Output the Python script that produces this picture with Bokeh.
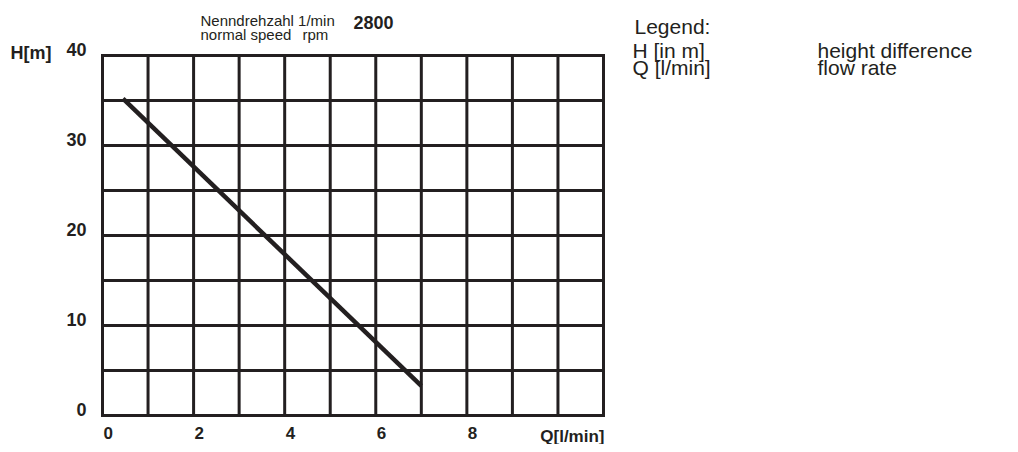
from bokeh.plotting import figure
from bokeh.models import Range1d
from bokeh.core.properties import value
from bokeh.embed import file_html
from bokeh.resources import INLINE

# ---- data ----
q_values = [0.45, 7.0]          # flow rate Q [l/min]
h_values = [35.2, 3.3]          # height H [m]
x_ticks = [0, 2, 4, 6, 8]
x_tick_labels = ["0", "2", "4", "6", "8"]
y_ticks = [0, 10, 20, 30, 40]
y_tick_labels = ["0", "10", "20", "30", "40"]
x_grid = list(range(0, 12))          # 0 .. 11
y_grid = list(range(0, 41, 5))       # 0 .. 40

INK = "#231f20"
FONT = "Liberation Sans"
W, H = 1010, 444

# box placement on the canvas (pixels)
BOX_L, BOX_R, BOX_T, BOX_B = 102, 603, 55, 415
XMIN, XMAX = x_grid[0], x_grid[-1]
YMIN, YMAX = y_grid[0], y_grid[-1]
SX = (BOX_R - BOX_L) / (XMAX - XMIN)
SY = (BOX_B - BOX_T) / (YMAX - YMIN)

p = figure(width=W, height=H, output_backend="svg", toolbar_location=None,
           x_range=Range1d(XMIN - BOX_L / SX, XMAX + (W - BOX_R) / SX),
           y_range=Range1d(YMIN - (H - BOX_B) / SY, YMAX + BOX_T / SY),
           x_axis_type=None, y_axis_type=None,
           min_border=0)
p.outline_line_color = None
p.grid.visible = False
p.background_fill_color = "white"
p.border_fill_color = "white"


def px_x(px):
    return XMIN + (px - BOX_L) / SX


def px_y(py):
    return YMAX - (py - BOX_T) / SY


# grid
p.segment(x0=x_grid, y0=[YMIN] * len(x_grid), x1=x_grid, y1=[YMAX] * len(x_grid),
          line_color=INK, line_width=3, line_cap="square")
p.segment(x0=[XMIN] * len(y_grid), y0=y_grid, x1=[XMAX] * len(y_grid), y1=y_grid,
          line_color=INK, line_width=3, line_cap="square")

# curve
p.line(q_values, h_values, line_color=INK, line_width=4.5)

# tick labels
p.text(x=x_ticks, y=[YMIN] * len(x_ticks), text=x_tick_labels, x_offset=1, y_offset=11,
       text_align="left", text_baseline="top", text_font=value(FONT),
       text_font_style="bold", text_font_size=value("17px"), text_color=INK)
p.text(x=[XMIN] * len(y_ticks), y=y_ticks, text=y_tick_labels, x_offset=-16, y_offset=-13,
       text_align="right", text_baseline="top", text_font=value(FONT),
       text_font_style="bold", text_font_size=value("18px"), text_color=INK)


def lab(text, px, py, size, bold=False, align="left"):
    p.text(x=[px_x(px)], y=[px_y(py)], text=[text], text_align=align,
           text_baseline="top", text_font=value(FONT),
           text_font_size=value(size), text_font_style="bold" if bold else "normal",
           text_color=INK)


lab("H[m]", 10, 42, "18px", bold=True)
lab("Q[l/min]", 604, 426, "17px", bold=True, align="right")
lab("Nenndrehzahl 1/min", 200, 11, "15px")
lab("normal speed", 200, 25, "15px")
lab("rpm", 302, 25, "15px")
lab("2800", 353, 15, "18px", bold=True)
lab("Legend:", 634, 14, "21px")
lab("H [in m]", 632, 38, "21px")
lab("Q [l/min]", 632, 55, "21px")
lab("height difference", 817, 38, "21px")
lab("flow rate", 817, 55, "21px")

open("out.html", "w").write(file_html(p, INLINE))
